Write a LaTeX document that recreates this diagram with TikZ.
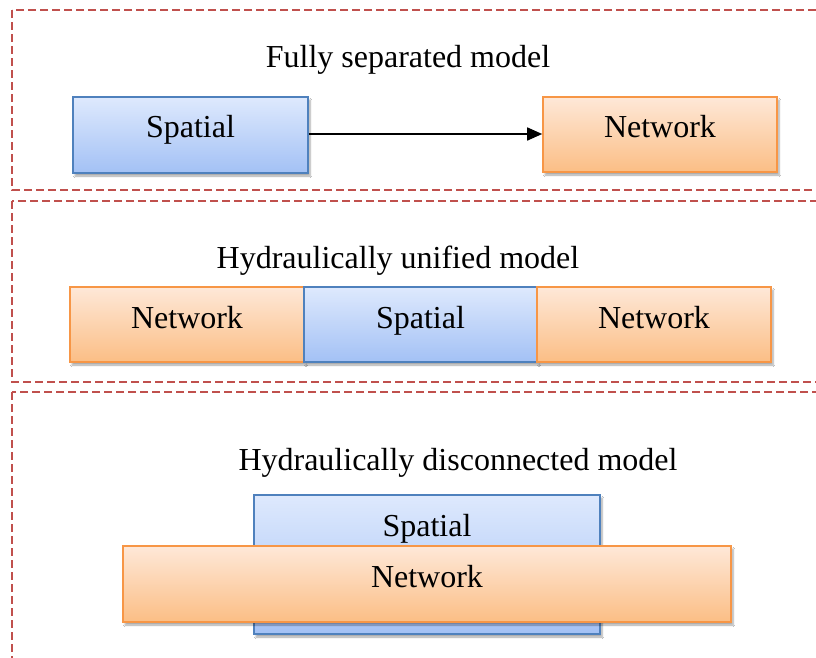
\documentclass[tikz,border=0pt]{standalone}
\usepackage{fontspec}
\setmainfont{Liberation Serif}
\usetikzlibrary{arrows.meta,shadows.blur}
\definecolor{frameRed}{HTML}{C0504D}
\definecolor{blueTop}{HTML}{DEE9FD}
\definecolor{blueBot}{HTML}{A3C1F5}
\definecolor{blueLine}{HTML}{4F81BD}
\definecolor{orTop}{HTML}{FEE8D8}
\definecolor{orBot}{HTML}{FBBE85}
\definecolor{orLine}{HTML}{F79646}
\tikzset{
  x=1pt, y=-1pt,
  panel/.style={draw=frameRed, line width=1.8pt, dash pattern=on 8pt off 4pt},
  card/.style={line width=1.6pt, inner sep=0pt,
    blur shadow={shadow xshift=2pt, shadow yshift=-3pt, shadow blur steps=6, shadow opacity=35}},
  spatialbox/.style={card, draw=blueLine, top color=blueTop, bottom color=blueBot},
  networkbox/.style={card, draw=orLine, top color=orTop, bottom color=orBot},
  caption/.style={font=\fontsize{32}{36}\selectfont, inner sep=0pt, anchor=base},
}
\begin{document}
\begin{tikzpicture}
\useasboundingbox (0,0) rectangle (816,657);
\fill[white] (0,0) rectangle (816,657);
\begin{scope}
\clip (0,0) rectangle (816,657);
% dashed panels
\draw[panel] (12,10) rectangle (840,190);
\draw[panel] (12,201) rectangle (840,382);
\draw[panel] (12,392) rectangle (840,700);

% fully separated
\node[caption] (t1) at (408,67) {Fully separated model};
\node[spatialbox, minimum width=235pt, minimum height=76pt] (s1) at (190.5,135) {};
\node[caption] (s1l) at (190.5,137) {Spatial};
\node[networkbox, minimum width=234pt, minimum height=75pt] (n1) at (660,134.5) {};
\node[caption] (n1l) at (660,137) {Network};
\draw[line width=1.6pt, -{Triangle[length=15pt,width=13pt]}] (s1.east |- 0,134) -- (n1.west |- 0,134);

% hydraulically unified
\node[caption] (t2) at (398,268) {Hydraulically unified model};
\node[networkbox, minimum width=234pt, minimum height=75pt] (n2a) at (187,324.5) {};
\node[caption] (n2al) at (187,328) {Network};
\node[spatialbox, minimum width=233pt, minimum height=75pt] (s2) at (420.5,324.5) {};
\node[caption] (s2l) at (420.5,328) {Spatial};
\node[networkbox, minimum width=234pt, minimum height=75pt] (n2b) at (654,324.5) {};
\node[caption] (n2bl) at (654,328) {Network};

% hydraulically disconnected
\node[caption] (t3) at (458,470) {Hydraulically disconnected model};
\node[spatialbox, minimum width=346pt, minimum height=139pt] (s3) at (427,564.5) {};
\node[caption] (s3l) at (427,536) {Spatial};
\node[networkbox, minimum width=608pt, minimum height=76pt] (n3) at (427,584) {};
\node[caption] (n3l) at (427,587) {Network};
\end{scope}
\end{tikzpicture}
\end{document}
